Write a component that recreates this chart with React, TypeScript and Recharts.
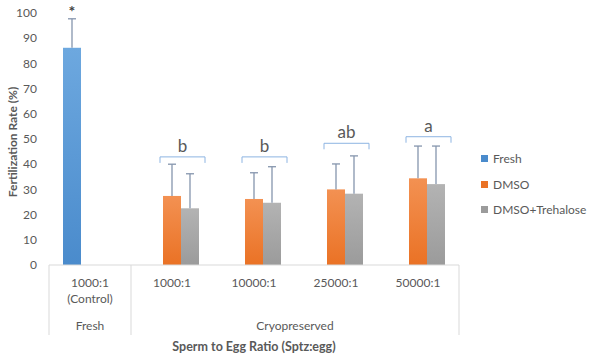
import { BarChart, Bar, XAxis, YAxis } from "recharts";

const categories = ["1000:1\n(Control)", "1000:1", "10000:1", "25000:1", "50000:1"];
const groups = ["Fresh", "Cryopreserved", "Cryopreserved", "Cryopreserved", "Cryopreserved"];
const freshVals = [86.2, null, null, null, null];
const freshErr = [11.5, null, null, null, null];
const dmsoVals = [null, 27.4, 26.2, 30.0, 34.4];
const dmsoErr = [null, 12.6, 10.4, 10.1, 12.8];
const trehVals = [null, 22.5, 24.7, 28.3, 32.1];
const trehErr = [null, 13.7, 14.3, 15.0, 15.1];
const starMarks = ["*", null, null, null, null];
const sigLetters = [null, "b", "b", "ab", "a"];
const bracketY = [null, 42.9, 42.9, 48.3, 50.9];
const yTicks = [0, 10, 20, 30, 40, 50, 60, 70, 80, 90, 100];

const series = [
  { key: "fresh", err: "freshErr", name: "Fresh", top: "#6da8df", bottom: "#4a8bcc" },
  { key: "dmso", err: "dmsoErr", name: "DMSO", top: "#f39152", bottom: "#ea7225" },
  { key: "treh", err: "trehErr", name: "DMSO+Trehalose", top: "#b3b3b3", bottom: "#9b9b9b" },
];

const data = categories.map((c, i) => ({
  label: c,
  group: groups[i],
  fresh: freshVals[i],
  freshErr: freshErr[i],
  dmso: dmsoVals[i],
  dmsoErr: dmsoErr[i],
  treh: trehVals[i],
  trehErr: trehErr[i],
  star: starMarks[i],
  sig: sigLetters[i],
  bracket: bracketY[i],
}));

const FONT = "Lato, 'Open Sans', sans-serif";
const TEXT = "#595959";
const ERR = "#8595ad";

// bar + plus-only error bar (Excel style), plus the annotations above it
function barWithError(fill: string, valKey: string, errKey: string) {
  return (props: any) => {
    const { x, y, width, height, payload } = props;
    if (!payload || !height || height <= 0) return <g />;
    const value = payload[valKey];
    const err = payload[errKey] || 0;
    const ppu = value ? height / value : 0;
    const base = y + height;
    const top = y - err * ppu;
    const cx = x + width / 2;
    let ann = null;
    if (valKey === "fresh" && payload.star) {
      ann = (
        <text x={cx} y={top - 2} textAnchor="middle" fill="#404040" fontSize={16} fontWeight="bold" fontFamily={FONT}>
          {payload.star}
        </text>
      );
    }
    if (valKey === "dmso" && payload.sig && payload.bracket != null) {
      const yy = base - payload.bracket * ppu;
      const x1 = x - 3;
      const x2 = x + 2 * width + 6;
      ann = (
        <g>
          <path d={`M${x1},${yy + 6} L${x1},${yy} L${x2},${yy} L${x2},${yy + 6}`} fill="none" stroke="#8db4e2" strokeWidth={1} />
          <text x={(x1 + x2) / 2} y={yy - 5} textAnchor="middle" fill={TEXT} fontSize={17} fontFamily={FONT}>
            {payload.sig}
          </text>
        </g>
      );
    }
    return (
      <g>
        <rect x={x} y={y} width={width} height={height} fill={fill} />
        {err ? (
          <g stroke={ERR} strokeWidth={1.3}>
            <line x1={cx} x2={cx} y1={y} y2={top} />
            <line x1={cx - 4} x2={cx + 4} y1={top} y2={top} />
          </g>
        ) : null}
        {ann}
      </g>
    );
  };
}

function CategoryTick(props: any) {
  const { x, y, payload } = props;
  const i = payload.index;
  const half = payload.offset || 41;
  const lines = String(payload.value).split("\n");
  const firstOfGroup = i === 0 || groups[i] !== groups[i - 1];
  let n = 0;
  if (firstOfGroup) {
    for (let j = i; j < groups.length && groups[j] === groups[i]; j++) n++;
  }
  const last = i === categories.length - 1;
  return (
    <g>
      {lines.map((l, k) => (
        <text key={k} x={x} y={y + 22 + k * 16} textAnchor="middle" fill={TEXT} fontSize={12} fontFamily={FONT}>
          {l}
        </text>
      ))}
      {firstOfGroup && (
        <>
          <line x1={x - half} x2={x - half} y1={y} y2={y + 70} stroke="#d9d9d9" />
          <text x={x + (n - 1) * half} y={y + 65} textAnchor="middle" fill={TEXT} fontSize={12} fontFamily={FONT}>
            {groups[i]}
          </text>
        </>
      )}
      {last && <line x1={x + half} x2={x + half} y1={y} y2={y + 70} stroke="#d9d9d9" />}
    </g>
  );
}

export default function App() {
  return (
    <div style={{ position: "absolute", left: 0, top: 0, width: 600, height: 358, background: "#fff" }}>
      <BarChart
        width={600}
        height={358}
        data={data}
        margin={{ top: 13, right: 141, bottom: 0, left: 0 }}
        barGap={0}
        barSize={18}
      >
        <defs>
          {series.map((s) => (
            <linearGradient key={s.key} id={`g-${s.key}`} x1="0" y1="0" x2="0" y2="1">
              <stop offset="0%" stopColor={s.top} />
              <stop offset="100%" stopColor={s.bottom} />
            </linearGradient>
          ))}
        </defs>
        <XAxis
          dataKey="label"
          height={93}
          interval={0}
          tickLine={false}
          tickSize={0}
          tickMargin={0}
          axisLine={{ stroke: "#d9d9d9" }}
          tick={<CategoryTick />}
          label={(p: any) => {
            const vb = p.viewBox;
            return (
              <text x={vb.x + vb.width / 2} y={351} textAnchor="middle" fill={TEXT} fontSize={12.5} fontWeight="bold" fontFamily={FONT}>
                Sperm to Egg Ratio (Sptz:egg)
              </text>
            );
          }}
        />
        <YAxis
          width={49}
          domain={[0, 100]}
          ticks={yTicks}
          interval={0}
          axisLine={false}
          tickLine={false}
          tickSize={0}
          tickMargin={12}
          tick={{ fill: TEXT, fontSize: 12, fontFamily: FONT }}
          label={() => (
            <text x={12} y={142} transform="rotate(-90 12 142)" textAnchor="middle" dominantBaseline="central" fill={TEXT} fontSize={12} fontWeight="bold" fontFamily={FONT}>
              Fertilization Rate (%)
            </text>
          )}
        />
        {series.map((s) => (
          <Bar
            key={s.key}
            dataKey={s.key}
            name={s.name}
            fill={`url(#g-${s.key})`}
            isAnimationActive={false}
            shape={barWithError(`url(#g-${s.key})`, s.key, s.err)}
          />
        ))}
      </BarChart>
      <div style={{ position: "absolute", left: 481, top: 146, fontFamily: FONT, fontSize: 12, color: TEXT }}>
        {series.map((s) => (
          <div key={s.key} style={{ display: "flex", alignItems: "center", height: 25.5 }}>
            <span style={{ display: "inline-block", width: 7, height: 7, background: s.bottom, marginRight: 5 }} />
            <span>{s.name}</span>
          </div>
        ))}
      </div>
    </div>
  );
}
